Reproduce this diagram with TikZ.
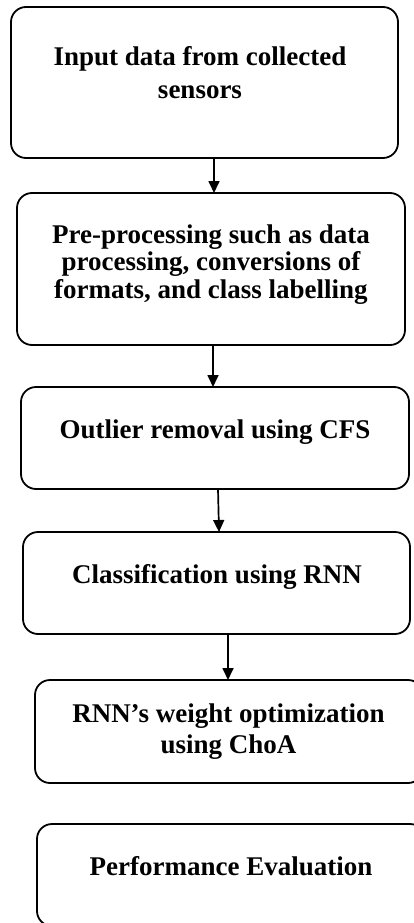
\documentclass[tikz,border=0pt]{standalone}
\usepackage{fontspec}
\setmainfont{Liberation Serif}
\usetikzlibrary{arrows.meta}
\begin{document}
\begin{tikzpicture}[x=1pt,y=-1pt,
  box/.style={draw, line width=1.8pt, rounded corners=15pt, inner sep=0pt, outer sep=0pt},
  txt/.style={anchor=north, inner sep=0pt, align=center, font=\bfseries\fontsize{27}{#1}\selectfont},
  arr/.style={line width=1.7pt, -{Triangle[length=12pt,width=11pt]}}]
\useasboundingbox (0,0) rectangle (414,923);
\clip (0,0) rectangle (414,923);
\node[box, minimum width=387pt, minimum height=151pt] (b1) at (204.5,82.5) {};
\node[box, minimum width=388pt, minimum height=152pt] (b2) at (211,269) {};
\node[box, minimum width=388pt, minimum height=102pt] (b3) at (215,438) {};
\node[box, minimum width=387pt, minimum height=102pt] (b4) at (216.5,583) {};
\node[box, minimum width=388pt, minimum height=103pt] (b5) at (229,731.5) {};
\node[box, minimum width=388pt, minimum height=102pt] (b6) at (231,875) {};
\node[txt=33] (t1) at (200,46.5) {Input data from collected\\sensors};
\node[txt=27.5] (t2) at (211,224.5) {Pre-processing such as data\\processing, conversions of\\formats, and class labelling};
\node[txt=30] (t3) at (215,419.5) {Outlier removal using CFS};
\node[txt=30] (t4) at (217,564.5) {Classification using RNN};
\node[txt=31] (t5) at (228.5,703.5) {RNN’s weight optimization\\using ChoA};
\node[txt=30] (t6) at (231,856.5) {Performance Evaluation};
\draw[arr] ([xshift=9.5pt]b1.south) -- ([xshift=3pt]b2.north);
\draw[arr] ([xshift=2pt]b2.south) -- ([xshift=-2pt]b3.north);
\draw[arr] ([xshift=3pt]b3.south) -- ([xshift=2.5pt]b4.north);
\draw[arr] ([xshift=11.5pt]b4.south) -- ([xshift=-1pt]b5.north);
\end{tikzpicture}
\end{document}
